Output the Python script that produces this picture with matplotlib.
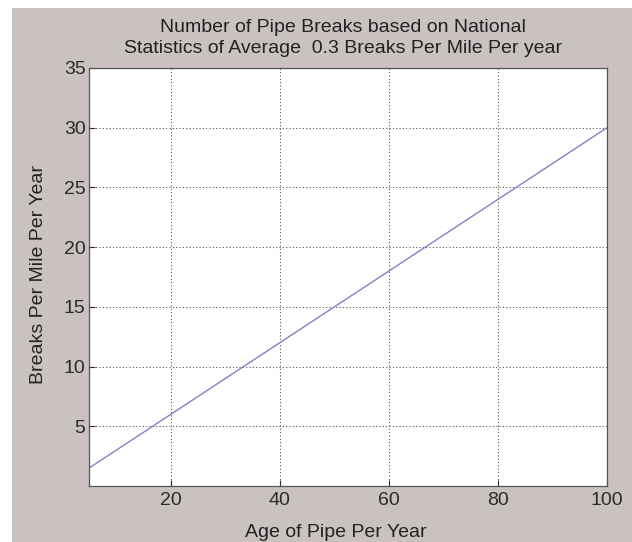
import matplotlib.pyplot as plt
from matplotlib.patches import Rectangle

# data: pipe age vs breaks per mile (0.3 breaks per mile per year)
ages = [5, 100]
breaks = [1.5, 30]
x_ticks = [20, 40, 60, 80, 100]
y_ticks = [5, 10, 15, 20, 25, 30, 35]
title_lines = ['Number of Pipe Breaks based on National',
               'Statistics of Average  0.3 Breaks Per Mile Per year']

plt.rcParams['font.family'] = ['Liberation Sans', 'DejaVu Sans']
FS = 14
TXT = '#222222'

W, H = 632, 542
fig = plt.figure(figsize=(W / 100, H / 100), dpi=100, facecolor='white')

# grey MATLAB-style figure background, leaving thin white strip at left/top
fig.patches.append(Rectangle((12 / W, 0), 1 - 12 / W, 1 - 8 / H,
                             transform=fig.transFigure, facecolor='#cac2c0',
                             edgecolor='none', zorder=-10))

ax = fig.add_axes([89 / W, 1 - 486 / H, (607 - 89) / W, (486 - 68) / H])
ax.set_facecolor('white')
ax.plot(ages, breaks, color='#7f82c4', linewidth=1.0)

ax.set_xlim(5, 100)
ax.set_ylim(0, 35)
ax.set_xticks(x_ticks)
ax.set_yticks(y_ticks)
ax.tick_params(labelsize=FS, colors='#2a2a2a', direction='in', length=4,
               width=0.8)
ax.tick_params(axis='x', pad=4)
ax.tick_params(axis='y', pad=2.5)
ax.grid(True, linestyle=(0, (1, 2)), color='#555555', linewidth=0.8)
for s in ax.spines.values():
    s.set_color('#555555')
    s.set_linewidth(0.9)

# two-line title, slightly left of axes centre like the original
fig.text(343 / W, 1 - 32 / H, title_lines[0], fontsize=FS, color=TXT,
         ha='center', va='baseline')
fig.text(343 / W, 1 - 53 / H, title_lines[1], fontsize=FS, color=TXT,
         ha='center', va='baseline')

ax.set_xlabel('Age of Pipe Per Year', fontsize=FS, color=TXT)
ax.set_ylabel('Breaks Per Mile Per Year', fontsize=FS, color=TXT)
ax.xaxis.set_label_coords((336 - 89) / 518, (486 - 524) / 418)
ax.yaxis.set_label_coords((47 - 89) / 518, (486 - 274) / 418)

fig.savefig('out.png', dpi=100, facecolor=fig.get_facecolor())
